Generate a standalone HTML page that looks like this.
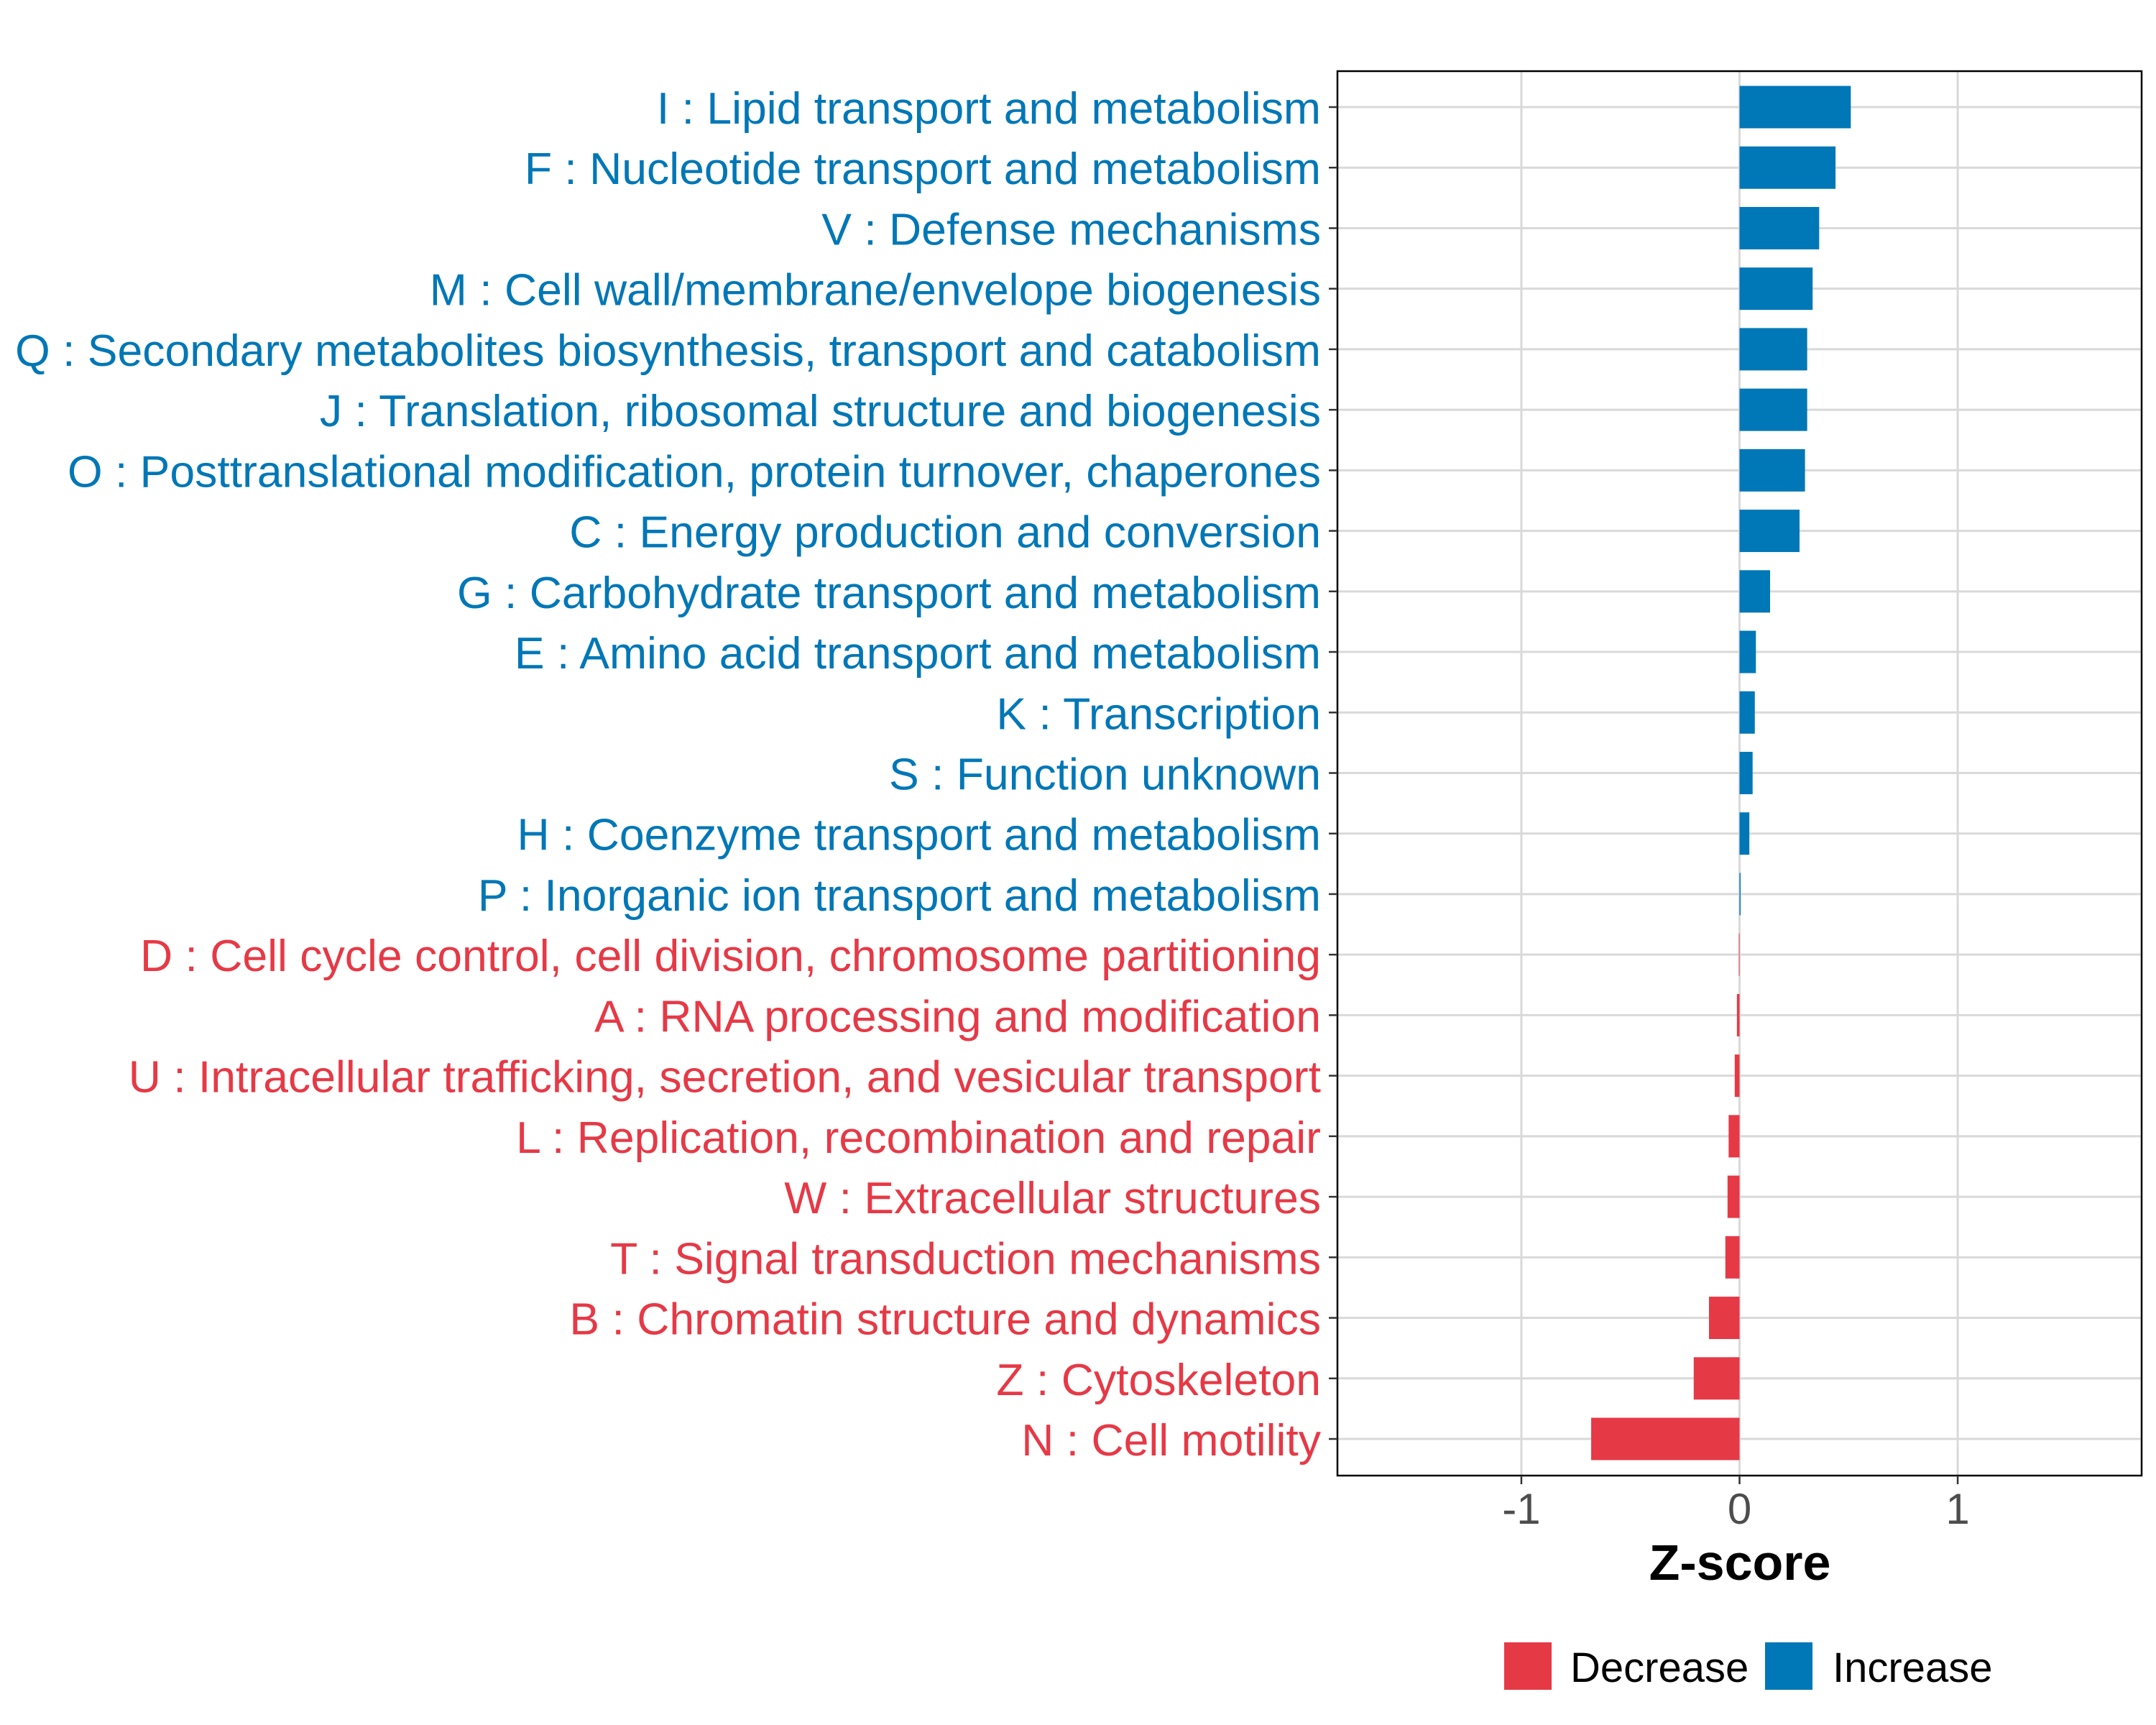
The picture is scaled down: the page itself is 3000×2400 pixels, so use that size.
<!DOCTYPE html>
<html><head><meta charset="utf-8"><style>
html,body{margin:0;padding:0;background:#fff;}
svg{display:block;font-family:"Liberation Sans",Arial,sans-serif;}
</style></head><body>
<svg id="chart" width="3000" height="2400" viewBox="0 0 3000 2400" xmlns="http://www.w3.org/2000/svg">
<rect x="0" y="0" width="3000" height="2400" fill="#fff"/>
<g id="grid"></g>
<g id="bars"></g>
<rect x="1861" y="99" width="1119" height="1954" fill="none" stroke="#000" stroke-width="2.5"/>
<g id="yaxis"></g>
<g id="xaxis"></g>
<text x="2421" y="2198" font-size="70" font-weight="bold" text-anchor="middle" fill="#000">Z-score</text>
<g>
<rect x="2093" y="2285" width="66" height="66" fill="#e63946"/>
<text x="2185" y="2340" font-size="58" fill="#000">Decrease</text>
<rect x="2456" y="2285" width="66" height="66" fill="#0077b6"/>
<text x="2550" y="2340" font-size="58" fill="#000">Increase</text>
</g>
</svg>
<script>
const categories = ["I : Lipid transport and metabolism","F : Nucleotide transport and metabolism","V : Defense mechanisms","M : Cell wall/membrane/envelope biogenesis","Q : Secondary metabolites biosynthesis, transport and catabolism","J : Translation, ribosomal structure and biogenesis","O : Posttranslational modification, protein turnover, chaperones","C : Energy production and conversion","G : Carbohydrate transport and metabolism","E : Amino acid transport and metabolism","K : Transcription","S : Function unknown","H : Coenzyme transport and metabolism","P : Inorganic ion transport and metabolism","D : Cell cycle control, cell division, chromosome partitioning","A : RNA processing and modification","U : Intracellular trafficking, secretion, and vesicular transport","L : Replication, recombination and repair","W : Extracellular structures","T : Signal transduction mechanisms","B : Chromatin structure and dynamics","Z : Cytoskeleton","N : Cell motility"];
const zscores = [0.51,0.44,0.365,0.335,0.31,0.31,0.30,0.275,0.14,0.075,0.07,0.06,0.045,0.005,-0.003,-0.012,-0.022,-0.05,-0.055,-0.065,-0.14,-0.21,-0.68];
const xTicks = [-1,0,1];
const xTickLabels = ["-1","0","1"];
const NS="http://www.w3.org/2000/svg";
const px0=1861, px1=2980, py0=99, py1=2053;
const xmin=-1.843, xmax=1.843;
function xs(v){return px0+(v-xmin)/(xmax-xmin)*(px1-px0);}
const rowStep=(2002-149)/(categories.length-1);
function ys(i){return 149+i*rowStep;}
function mk(tag,attrs,parent){const e=document.createElementNS(NS,tag);for(const k in attrs)e.setAttribute(k,attrs[k]);parent.appendChild(e);return e;}
const grid=document.getElementById('grid'),bars=document.getElementById('bars'),ya=document.getElementById('yaxis'),xa=document.getElementById('xaxis');
xTicks.forEach((t,i)=>{
  const l=mk('line',{x1:xs(t),x2:xs(t),y1:py0,y2:py1,stroke:'#d9d9d9','stroke-width':3},grid);
  
  
  const tk=mk('line',{x1:xs(t),x2:xs(t),y1:py1,y2:py1+12,stroke:'#333','stroke-width':2.5},xa);
  
  
  const tx=mk('text',{x:xs(t),y:2120,'font-size':60,'text-anchor':'middle',fill:'#4d4d4d'},xa);
  tx.textContent=xTickLabels[i];
  
  
});
categories.forEach((c,i)=>{
  const y=ys(i);
  const g=mk('line',{x1:px0,x2:px1,y1:y,y2:y,stroke:'#d9d9d9','stroke-width':3},grid);
  
  
  const v=zscores[i];
  const col=v>=0?'#0077b6':'#e63946';
  const bh=rowStep*0.7;
  const x0=Math.min(xs(0),xs(v)), w=Math.max(Math.abs(xs(v)-xs(0)),0.6);
  const b=mk('rect',{x:x0,y:y-bh/2,width:w,height:bh,fill:col},bars);
  
  
  const tk=mk('line',{x1:px0-12,x2:px0,y1:y,y2:y,stroke:'#333','stroke-width':2.5},ya);
  
  
  const t=mk('text',{x:1838,y:y+23,'font-size':62.5,'text-anchor':'end',fill:col},ya);
  t.textContent=c;
  
  
});
</script>
</body></html>
